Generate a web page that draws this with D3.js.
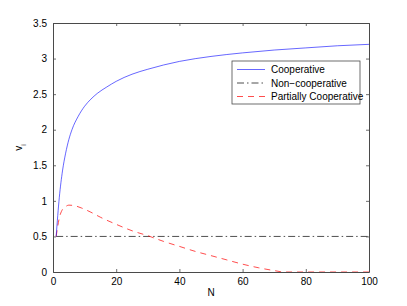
<!DOCTYPE html>
<html>
<head>
<meta charset="utf-8">
<script src="https://cdn.jsdelivr.net/npm/d3@7"></script>
<style>
  html, body { margin: 0; padding: 0; background: #fff; }
  svg { display: block; font-family: "Liberation Sans", Arial, sans-serif; }
</style>
</head>
<body>
<div id="chart"></div>
<script>
// ---------------------------------------------
// DATA
// ---------------------------------------------
const coopN = [1, 2, 3, 4, 5, 6, 8, 10, 12, 14, 17, 20, 25, 30, 35, 40, 50, 60, 70, 80, 90, 100];
const coopV = [0.5, 1.05, 1.42, 1.67, 1.86, 2.0, 2.19, 2.33, 2.43, 2.51, 2.6, 2.68, 2.78, 2.85, 2.91, 2.96, 3.03, 3.08, 3.12, 3.15, 3.18, 3.2];

const partN = [1, 2, 3, 4, 5, 7, 9, 12, 15, 20, 25, 30, 35, 40, 45, 50, 55, 60, 65, 70, 73, 80, 90, 100];
const partV = [0.5, 0.76, 0.88, 0.92, 0.94, 0.93, 0.9, 0.84, 0.77, 0.67, 0.58, 0.51, 0.43, 0.36, 0.29, 0.23, 0.17, 0.11, 0.06, 0.02, 0, 0, 0, 0];

const nonN = [1, 100];
const nonV = [0.5, 0.5];

const xTicks = [0, 20, 40, 60, 80, 100];
const yTicks = [0, 0.5, 1, 1.5, 2, 2.5, 3, 3.5];
const legendLabels = ["Cooperative", "Non\u2212cooperative", "Partially Cooperative"];

(() => {
  // ---------------------------------------------
  // LAYOUT
  // ---------------------------------------------
  const W = 407, H = 306;
  const margin = { top: 23, right: 38, bottom: 34, left: 53 };
  const width = W - margin.left - margin.right;
  const height = H - margin.top - margin.bottom;

  const svg = d3.select("#chart").append("svg")
    .attr("width", W)
    .attr("height", H);

  const g = svg.append("g")
    .attr("transform", `translate(${margin.left},${margin.top})`);

  const x = d3.scaleLinear().domain([0, 100]).range([0, width]);
  const y = d3.scaleLinear().domain([0, 3.5]).range([height, 0]);

  const axisColor = "#4a4a4a";

  // ---------------------------------------------
  // SERIES
  // ---------------------------------------------
  const series = [
    { n: nonN, v: nonV, color: "#222", dash: "7,3,1.5,3", w: 0.8 },
    { n: partN, v: partV, color: "#ff0000", dash: "6,5", w: 0.7 },
    { n: coopN, v: coopV, color: "#0000ff", dash: null, w: 0.6 }
  ];

  series.forEach(s => {
    g.append("path")
      .datum(d3.zip(s.n, s.v))
      .attr("fill", "none")
      .attr("stroke", s.color)
      .attr("stroke-width", s.w)
      .attr("stroke-dasharray", s.dash)
      .attr("d", d3.line().curve(d3.curveMonotoneX).x(d => x(d[0])).y(d => y(d[1])));
  });

  // ---------------------------------------------
  // AXES (MATLAB box style, ticks inside)
  // ---------------------------------------------
  const tickLen = 3;

  const axB = g.append("g")
    .attr("transform", `translate(0,${height})`)
    .call(d3.axisBottom(x).tickValues(xTicks).tickSizeInner(-tickLen).tickSizeOuter(0).tickPadding(6));
  const axL = g.append("g")
    .call(d3.axisLeft(y).tickValues(yTicks).tickFormat(d3.format("")).tickSizeInner(-tickLen).tickSizeOuter(0).tickPadding(6));
  const axT = g.append("g")
    .call(d3.axisTop(x).tickValues(xTicks).tickSizeInner(-tickLen).tickSizeOuter(0).tickFormat(""));
  const axR = g.append("g")
    .attr("transform", `translate(${width},0)`)
    .call(d3.axisRight(y).tickValues(yTicks).tickSizeInner(-tickLen).tickSizeOuter(0).tickFormat(""));

  [axB, axL, axT, axR].forEach(a => {
    a.select(".domain").attr("stroke", axisColor).attr("stroke-width", 1);
    a.selectAll(".tick line").attr("stroke", axisColor).attr("stroke-width", 0.8);
    a.selectAll("text").attr("fill", "#000").style("font-size", "10px")
      .style("font-family", "'Liberation Sans', Arial, sans-serif");
  });

  // axis labels
  svg.append("text")
    .attr("x", margin.left + width / 2)
    .attr("y", 296)
    .attr("text-anchor", "middle")
    .style("font-size", "10px")
    .text("N");

  const yl = svg.append("text")
    .attr("transform", `translate(22,${margin.top + height / 2}) rotate(-90)`)
    .attr("text-anchor", "middle")
    .style("font-size", "10px");
  yl.append("tspan").text("v");
  yl.append("tspan").attr("dy", 4).style("font-size", "7px").text("i");

  // ---------------------------------------------
  // LEGEND
  // ---------------------------------------------
  const lg = svg.append("g").attr("transform", "translate(232,61)");
  lg.append("rect")
    .attr("width", 128).attr("height", 43)
    .attr("fill", "#fff")
    .attr("stroke", axisColor).attr("stroke-width", 0.8);

  const legendSeries = [series[2], series[0], series[1]];
  legendLabels.forEach((lab, i) => {
    const yy = 8.5 + i * 13.5;
    lg.append("line")
      .attr("x1", 5).attr("x2", 33).attr("y1", yy).attr("y2", yy)
      .attr("stroke", legendSeries[i].color)
      .attr("stroke-width", legendSeries[i].w)
      .attr("stroke-dasharray", legendSeries[i].dash);
    lg.append("text")
      .attr("x", 39).attr("y", yy + 3.5)
      .style("font-size", "10px")
      .text(lab);
  });
})();
</script>
</body>
</html>
